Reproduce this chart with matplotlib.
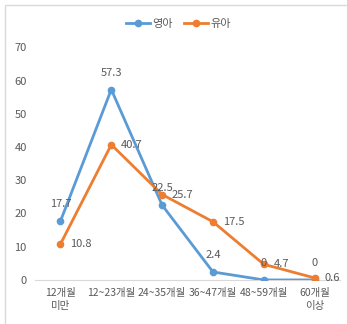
from matplotlib import pyplot as plt
from matplotlib.patches import Rectangle

plt.rcParams['font.family'] = ['Noto Sans CJK KR', 'DejaVu Sans']

categories = ['12개월\n미만', '12~23개월', '24~35개월', '36~47개월', '48~59개월', '60개월\n이상']
infant = [17.7, 57.3, 22.5, 2.4, 0, 0]
toddler = [10.8, 40.7, 25.7, 17.5, 4.7, 0.6]

blue = '#5B9BD5'
orange = '#ED7D31'
gray = '#595959'

fig = plt.figure(figsize=(3.47, 3.24), dpi=100)
fig.patches.append(Rectangle((0.015, -0.01), 1.0, 0.995, transform=fig.transFigure,
                             fill=False, edgecolor='#D9D9D9', linewidth=1.0))
ax = fig.add_axes([0.101, 0.136, 0.879, 0.718])

x = list(range(len(categories)))
ax.plot(x, infant, color=blue, linewidth=2.0, marker='o', markersize=4.5, label='영아', zorder=3)
ax.plot(x, toddler, color=orange, linewidth=2.0, marker='o', markersize=4.5, label='유아', zorder=3)

# value labels: 영아 above the point, 유아 to the right
for i, v in enumerate(infant):
    ax.annotate(f'{v:g}', (i, v), xytext=(0, 12), textcoords='offset points',
                ha='center', va='center', fontsize=8, color=gray)
for i, v in enumerate(toddler):
    ax.annotate(f'{v:g}', (i, v), xytext=(7, 0), textcoords='offset points',
                ha='left', va='center', fontsize=8, color=gray)

ax.set_xlim(-0.5, 5.5)
ax.set_ylim(0, 70)
ax.set_yticks(range(0, 71, 10))
ax.set_xticks(x)
ax.set_xticklabels(categories, fontsize=7.5, color=gray, linespacing=1.3)
ax.tick_params(axis='y', labelsize=8, labelcolor=gray, length=0, pad=6)
ax.tick_params(axis='x', length=0, pad=6)
for s in ['top', 'right', 'left']:
    ax.spines[s].set_visible(False)
ax.spines['bottom'].set_color('#D9D9D9')

ax.legend(loc='center', bbox_to_anchor=(0.47, 1.1), ncol=2, frameon=False,
          fontsize=8, labelcolor=gray, handlelength=2.2, handletextpad=0.2, columnspacing=1.0)

fig.savefig('out.png', dpi=100)
